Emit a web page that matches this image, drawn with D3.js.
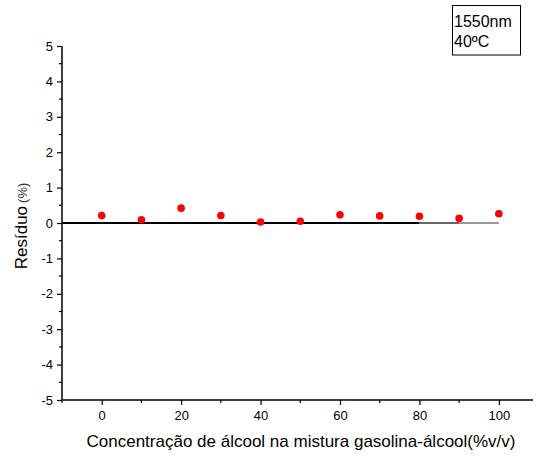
<!DOCTYPE html>
<html><head><meta charset="utf-8">
<script src="https://cdn.jsdelivr.net/npm/d3@7"></script>
<style>body{margin:0;background:#fff}svg{display:block}text{font-family:"Liberation Sans",Arial,sans-serif}</style>
</head><body>
<svg id="c" width="536" height="456"></svg>
<script>
const concentrations = [0,10,20,30,40,50,60,70,80,90,100];
const residuals = [0.21,0.09,0.42,0.21,0.03,0.05,0.23,0.20,0.19,0.13,0.26];
const xTicks = [0,20,40,60,80,100];
const yTicks = [-5,-4,-3,-2,-1,0,1,2,3,4,5];
const legendLines = ["1550nm","40ºC"];

const svg = d3.select("#c");
const x = d3.scaleLinear().domain([-10,108.6]).range([62,533]);
const y = d3.scaleLinear().domain([-5,5]).range([400,46]);

// y axis
const yAxis = d3.axisLeft(y).tickValues(yTicks).tickSize(5).tickPadding(4).tickFormat(d => String(d));
const gy = svg.append("g").attr("transform","translate(62,0)").call(yAxis);
gy.select(".domain").attr("stroke","#000").attr("stroke-width",1.5).attr("d","M0,"+y(-5)+"V"+y(5));
gy.selectAll(".tick line").attr("stroke-width",1.2);
gy.selectAll("text").attr("font-size",13).attr("fill","#000");
const yMinor = d3.range(-4.5,5,1);
gy.selectAll(".minor").data(yMinor).enter().append("line")
  .attr("x1",-3).attr("x2",0).attr("y1",d=>y(d)).attr("y2",d=>y(d)).attr("stroke","#000").attr("stroke-width",1.2);

// x axis
const xAxis = d3.axisBottom(x).tickValues(xTicks).tickSize(5).tickPadding(6).tickFormat(d => String(d));
const gx = svg.append("g").attr("transform","translate(0,400)").call(xAxis);
gx.select(".domain").attr("stroke","#000").attr("stroke-width",1.5).attr("d","M62,0H533");
gx.selectAll(".tick line").attr("stroke-width",1.2);
gx.selectAll("text").attr("font-size",13).attr("fill","#000");
const xMinor = [-10,10,30,50,70,90];
gx.selectAll(".minor").data(xMinor).enter().append("line")
  .attr("x1",d=>x(d)).attr("x2",d=>x(d)).attr("y1",0).attr("y2",3).attr("stroke","#000").attr("stroke-width",1.2);

// zero line
svg.append("line").attr("x1",x(-10)).attr("x2",x(80)).attr("y1",y(0)).attr("y2",y(0)).attr("stroke","#000").attr("stroke-width",2);
svg.append("line").attr("x1",x(80)).attr("x2",x(90)).attr("y1",y(0)).attr("y2",y(0)).attr("stroke","#333").attr("stroke-width",1.6);
svg.append("line").attr("x1",x(90)).attr("x2",x(100)).attr("y1",y(0)).attr("y2",y(0)).attr("stroke","#777").attr("stroke-width",1.3);

// points
svg.selectAll(".pt").data(concentrations).enter().append("circle")
  .attr("cx",d=>x(d)).attr("cy",(d,i)=>y(residuals[i])).attr("r",3.8).attr("fill","#ff0000");

// axis labels
svg.append("text").attr("x",301).attr("y",447).attr("text-anchor","middle").attr("font-size",17).attr("fill","#000")
  .text("Concentração de álcool na mistura gasolina-álcool(%v/v)");
const yl = svg.append("text").attr("transform","translate(27,226) rotate(-90)").attr("text-anchor","middle").attr("font-size",17).attr("fill","#000");
yl.append("tspan").text("Resíduo");
yl.append("tspan").attr("font-size",13).attr("dx",3).attr("fill","#333").text("(%)");

// legend
svg.append("rect").attr("x",452.5).attr("y",5.5).attr("width",68).attr("height",49.5).attr("fill","none").attr("stroke","#000").attr("stroke-width",1);
svg.selectAll(".lg").data(legendLines).enter().append("text")
  .attr("x",454).attr("y",(d,i)=>27+i*20).attr("font-size",16).attr("fill","#000").text(d=>d);
</script>
</body></html>
